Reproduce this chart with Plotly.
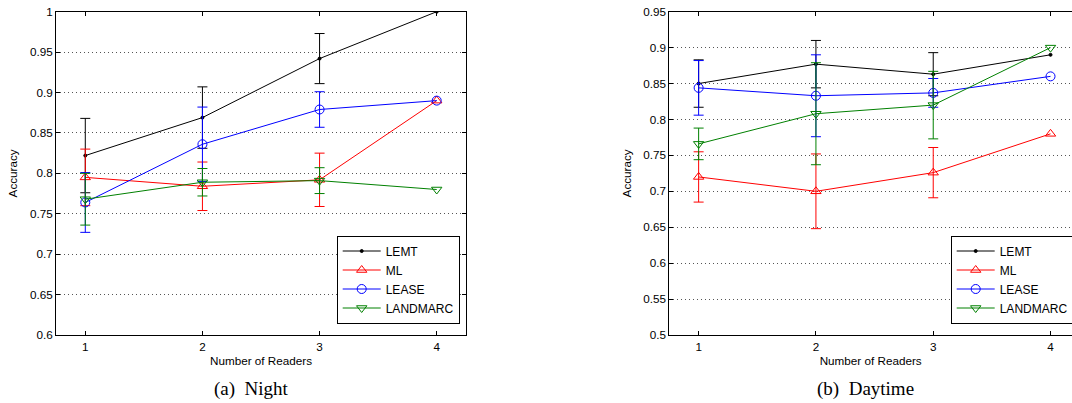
import plotly.graph_objects as go

# ---- data ----
readers = [1, 2, 3, 4]
series_names = ["LEMT", "ML", "LEASE", "LANDMARC"]

night_lemt = [0.822, 0.869, 0.942, 1.000]
night_lemt_err = [0.046, 0.038, 0.031]
night_ml = [0.795, 0.784, 0.792, 0.890]
night_ml_err = [0.035, 0.030, 0.033]
night_lease = [0.764, 0.836, 0.879, 0.890]
night_lease_err = [0.037, 0.046, 0.022]
night_landmarc = [0.768, 0.789, 0.791, 0.780]
night_landmarc_err = [0.032, 0.017, 0.016]

day_lemt = [0.850, 0.877, 0.863, 0.890]
day_lemt_err = [0.033, 0.033, 0.030]
day_ml = [0.720, 0.700, 0.726, 0.780]
day_ml_err = [0.035, 0.052, 0.035]
day_lease = [0.844, 0.833, 0.837, 0.860]
day_lease_err = [0.038, 0.057, 0.020]
day_landmarc = [0.766, 0.808, 0.820, 0.900]
day_landmarc_err = [0.022, 0.071, 0.047]

night_ticks = [0.6, 0.65, 0.7, 0.75, 0.8, 0.85, 0.9, 0.95, 1.0]
day_ticks = [0.5, 0.55, 0.6, 0.65, 0.7, 0.75, 0.8, 0.85, 0.9, 0.95]

# ---- styles ----
colors = {"LEMT": "#000000", "ML": "#ff0000", "LEASE": "#0000ff", "LANDMARC": "#008000"}
symbols = {"LEMT": "circle", "ML": "triangle-up-open", "LEASE": "circle-open",
           "LANDMARC": "triangle-down-open"}
sizes = {"LEMT": 3, "ML": 9, "LEASE": 9, "LANDMARC": 9}

SANS = "Liberation Sans, Arial, Helvetica, sans-serif"
SERIF = "Liberation Serif, Times New Roman, serif"
FS = 11.7

W, H = 1072, 403

fig = go.Figure()

night = {"LEMT": (night_lemt, night_lemt_err), "ML": (night_ml, night_ml_err),
         "LEASE": (night_lease, night_lease_err), "LANDMARC": (night_landmarc, night_landmarc_err)}
day = {"LEMT": (day_lemt, day_lemt_err), "ML": (day_ml, day_ml_err),
       "LEASE": (day_lease, day_lease_err), "LANDMARC": (day_landmarc, day_landmarc_err)}

for data, xa, ya, leg in [(night, "x", "y", "legend"), (day, "x2", "y2", "legend2")]:
    for name in series_names:
        vals, err = data[name]
        c = colors[name]
        fig.add_trace(go.Scatter(
            x=readers, y=vals, name=name, mode="lines+markers",
            xaxis=xa, yaxis=ya, legend=leg,
            line=dict(color=c, width=1),
            marker=dict(symbol=symbols[name], size=sizes[name], color=c,
                        line=dict(color=c, width=1)),
            error_y=dict(type="data", array=err, color=c, thickness=1, width=5),
        ))

def px_x(p):
    return p / W

def px_y(p):
    return (H - p) / H

axis_common = dict(
    showline=True, linecolor="black", linewidth=1,
    ticks="inside", ticklen=4, tickcolor="black",
    tickfont=dict(family=SANS, size=FS, color="#000"),
    zeroline=False,
)
grid = dict(showgrid=True, gridcolor="#555", griddash="1px,3px", gridwidth=1)
title_font = dict(family=SANS, size=FS, color="#000")
legend_common = dict(xanchor="left", yanchor="middle", bordercolor="black", borderwidth=1,
                     bgcolor="white", itemwidth=38,
                     font=dict(family=SANS, size=12, color="#000"))

fig.update_layout(
    width=W, height=H,
    margin=dict(l=0, r=0, t=0, b=0, autoexpand=False),
    paper_bgcolor="white", plot_bgcolor="white",
    font=dict(family=SANS, size=FS, color="#000"),
    xaxis=dict(domain=[px_x(56), px_x(466)], range=[0.75, 4.25], tickvals=readers,
               mirror="ticks", showgrid=False, anchor="y", ticklabelstandoff=1,
               title=dict(text="Number of Readers", standoff=4, font=title_font),
               **axis_common),
    yaxis=dict(domain=[px_y(335), px_y(11.7)], range=[0.6, 1.0], tickvals=night_ticks,
               mirror="ticks", anchor="x",
               title=dict(text="Accuracy", standoff=9, font=title_font),
               **grid, **axis_common),
    xaxis2=dict(domain=[px_x(669.3), 1.0], range=[0.75, 4.183], tickvals=readers,
                mirror="ticks", showgrid=False, anchor="y2", ticklabelstandoff=1,
                title=dict(text="Number of Readers", standoff=4, font=title_font),
                **axis_common),
    yaxis2=dict(domain=[px_y(335), px_y(11.7)], range=[0.5, 0.95], tickvals=day_ticks,
                mirror=False, anchor="x2",
                title=dict(text="Accuracy", standoff=9, font=title_font),
                **grid, **axis_common),
    legend=dict(x=px_x(336.7), y=px_y(279.5), **legend_common),
    legend2=dict(x=px_x(950.7), y=px_y(279.5), **legend_common),
    annotations=[
        dict(text="(a)\u00a0\u00a0Night", x=px_x(251.5), y=px_y(389), xref="paper", yref="paper",
             showarrow=False, xanchor="center", yanchor="middle",
             font=dict(family=SERIF, size=19, color="#000")),
        dict(text="(b)\u00a0\u00a0Daytime", x=px_x(865.5), y=px_y(389), xref="paper", yref="paper",
             showarrow=False, xanchor="center", yanchor="middle",
             font=dict(family=SERIF, size=19, color="#000")),
    ],
)

fig.write_html("out.html", config={"displayModeBar": False},
               post_script="document.body.style.margin='0px';")
